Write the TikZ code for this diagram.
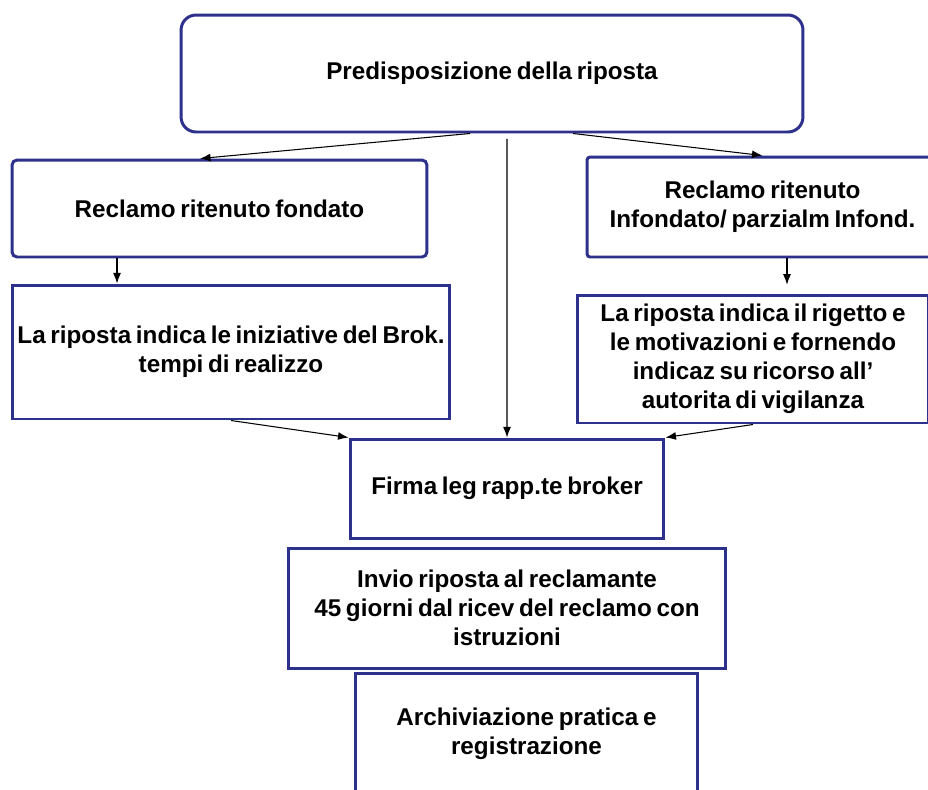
\documentclass[tikz,border=0pt]{standalone}
\usepackage{fontspec}
\setmainfont{Liberation Sans}[WordSpace=0.7]
\usetikzlibrary{calc,positioning,arrows.meta}
\usepackage{xcolor}
\definecolor{navy}{RGB}{46,49,140}

\begin{document}
\begin{tikzpicture}[x=0.02cm, y=-0.02cm,
    box/.style={draw=navy, line width=1.7pt, align=center, inner sep=1pt,
      font=\bfseries\fontsize{13.8}{16.6}\selectfont},
    arr/.style={-{Latex[length=6pt,width=4.5pt]}, line width=0.6pt}]
    \useasboundingbox (0,0) rectangle (928,789);
    \clip (0,0) rectangle (928,789);
    % Draw the boxes
    \node[box, rounded corners=0.3cm, minimum width=12.44cm, minimum height=2.34cm] (top) at (492,73.5) {Predisposizione della riposta};
    \node[box, rounded corners=0.1cm, minimum width=8.3cm, minimum height=1.94cm] (fond) at (219.5,208.5) {Reclamo ritenuto fondato};
    \node[box, rounded corners=0.06cm, minimum width=7.02cm, minimum height=2cm] (infond) at (762.5,207) {Reclamo ritenuto\\Infondato/ parzialm Infond.};
    \node[box, minimum width=8.76cm, minimum height=2.68cm] (iniz) at (231,352) {La riposta indica le iniziative del Brok.\\tempi di realizzo};
    \node[box, minimum width=7.04cm, minimum height=2.56cm] (rig) at (753,359) {La riposta indica il rigetto e\\le motivazioni e fornendo\\indicaz su ricorso all'\\autorita di vigilanza};
    \node[box, minimum width=6.28cm, minimum height=1.98cm] (firma) at (507,488.5) {Firma leg rapp.te broker};
    \node[box, minimum width=8.76cm, minimum height=2.4cm] (invio) at (507,608) {Invio riposta al reclamante\\45 giorni dal ricev del reclamo con\\istruzioni};
    \node[box, minimum width=6.86cm, minimum height=2.44cm] (arch) at (526.5,734) {Archiviazione pratica e\\registrazione};
    % Draw the arrows
    \draw[arr] ([xshift=-0.44cm]top.south) -- ([xshift=-0.39cm]fond.north);
    \draw[arr] ([xshift=1.62cm]top.south) -- (infond.north);
    \draw[arr] ([xshift=0.3cm,yshift=-3pt]top.south) -- (firma.north);
    \draw[arr] ([xshift=-2.05cm]fond.south) -- ([xshift=-2.05cm]fond.south |- iniz.north);
    \draw[arr, shorten >=5pt] ([xshift=0.49cm]infond.south) -- ([xshift=0.49cm]infond.south |- rig.north);
    \draw[arr] (iniz.south) -- (firma.north west);
    \draw[arr] (rig.south) -- (firma.north east);
\end{tikzpicture}
\end{document}
